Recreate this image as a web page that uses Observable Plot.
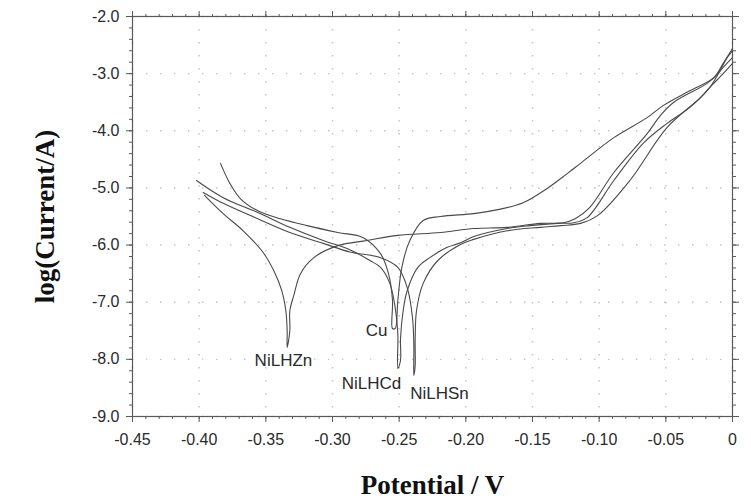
<!DOCTYPE html>
<html>
<head>
<meta charset="utf-8">
<script src="https://cdn.jsdelivr.net/npm/d3@7"></script>
<script src="https://cdn.jsdelivr.net/npm/@observablehq/plot@0.6"></script>
<style>
  html, body { margin: 0; padding: 0; background: #fff; }
</style>
</head>
<body>
<div id="chart"></div>
<script>
// Tafel polarization curves: log(current) against potential for the bare Cu
// electrode and the three NiLH-coated electrodes.

const xTicks = [-0.45, -0.40, -0.35, -0.30, -0.25, -0.20, -0.15, -0.10, -0.05, 0];
const yTicks = [-2, -3, -4, -5, -6, -7, -8, -9];

const seriesNames = ["Cu", "NiLHZn", "NiLHCd", "NiLHSn"];

// Cu
const cuPotential = [-0.384, -0.377, -0.369, -0.356, -0.339, -0.319, -0.296, -0.277, -0.264, -0.258, -0.255, -0.255,
  -0.253, -0.251, -0.248, -0.242, -0.232, -0.219, -0.194, -0.176, -0.157, -0.139, -0.124, -0.114, -0.089, -0.064,
  -0.052, -0.032, -0.014, -0.007, 0.000];
const cuLogCurrent = [-4.57, -4.92, -5.19, -5.40, -5.54, -5.66, -5.78, -5.87, -6.15, -6.50, -6.97, -7.46,
  -7.46, -6.97, -6.39, -5.92, -5.57, -5.50, -5.45, -5.38, -5.26, -5.01, -4.75, -4.57, -4.12, -3.77,
  -3.56, -3.30, -3.07, -2.82, -2.56];

// NiLHZn
const znPotential = [-0.396, -0.382, -0.367, -0.352, -0.344, -0.338, -0.335, -0.334, -0.334, -0.332, -0.332, -0.329,
  -0.324, -0.314, -0.296, -0.274, -0.251, -0.219, -0.194, -0.169, -0.144, -0.127, -0.118, -0.107, -0.089, -0.064,
  -0.054, -0.044, -0.019, -0.011, -0.004, 0.000];
const znLogCurrent = [-5.13, -5.45, -5.75, -6.13, -6.45, -6.80, -7.15, -7.50, -7.79, -7.50, -7.15, -6.88,
  -6.50, -6.22, -6.01, -5.92, -5.83, -5.78, -5.71, -5.69, -5.62, -5.61, -5.54, -5.34, -4.73, -4.05,
  -3.73, -3.50, -3.17, -3.00, -2.72, -2.60];

// NiLHCd
const cdPotential = [-0.402, -0.382, -0.356, -0.332, -0.307, -0.287, -0.272, -0.264, -0.257, -0.253, -0.251, -0.251,
  -0.249, -0.249, -0.247, -0.244, -0.236, -0.227, -0.214, -0.204, -0.194, -0.169, -0.152, -0.131, -0.119, -0.109,
  -0.089, -0.067, -0.049, -0.032, -0.017, -0.009, 0.000];
const cdLogCurrent = [-4.87, -5.17, -5.43, -5.69, -5.92, -6.08, -6.27, -6.39, -6.67, -7.09, -7.55, -8.16,
  -8.02, -7.64, -7.15, -6.80, -6.39, -6.22, -6.04, -5.96, -5.85, -5.71, -5.66, -5.62, -5.61, -5.52,
  -4.87, -4.22, -3.87, -3.59, -3.24, -2.95, -2.72];

// NiLHSn
const snPotential = [-0.397, -0.382, -0.356, -0.332, -0.307, -0.287, -0.264, -0.251, -0.244, -0.240, -0.239, -0.239,
  -0.238, -0.238, -0.237, -0.232, -0.221, -0.204, -0.194, -0.169, -0.144, -0.129, -0.114, -0.101, -0.077, -0.049,
  -0.024, -0.017, -0.007, 0.000];
const snLogCurrent = [-5.08, -5.27, -5.54, -5.78, -5.97, -6.12, -6.22, -6.39, -6.74, -7.27, -7.76, -8.28,
  -8.11, -7.67, -7.15, -6.67, -6.27, -5.99, -5.90, -5.75, -5.69, -5.66, -5.62, -5.48, -4.87, -3.94,
  -3.42, -3.24, -3.00, -2.82];

// Curve annotations (text centre, in data units)
const labelText = ["NiLHZn", "Cu", "NiLHCd", "NiLHSn"];
const labelPotential = [-0.3368, -0.267, -0.2708, -0.2198];
const labelLogCurrent = [-8.02, -7.50, -8.42, -8.60];

const curves = [
  {name: seriesNames[0], v: cuPotential, i: cuLogCurrent},
  {name: seriesNames[1], v: znPotential, i: znLogCurrent},
  {name: seriesNames[2], v: cdPotential, i: cdLogCurrent},
  {name: seriesNames[3], v: snPotential, i: snLogCurrent}
];
const rows = curves.flatMap(c => c.v.map((v, k) => ({series: c.name, V: v, logI: c.i[k]})));
const labels = labelText.map((t, k) => ({text: t, V: labelPotential[k], logI: labelLogCurrent[k]}));

const xMinor = d3.range(-45, 1, 1).map(d => d / 100);
const yMinor = d3.range(-90, -19, 2).map(d => d / 10);

const sans = "'Liberation Sans', Arial, sans-serif";
const serif = "'Liberation Serif', 'Times New Roman', serif";
const axisColor = "#5a5a5a";
const none = () => "";

const chart = Plot.plot({
  width: 751,
  height: 502,
  marginLeft: 132,
  marginRight: 19,
  marginTop: 16,
  marginBottom: 86,
  style: {fontFamily: sans, fontSize: "16px", background: "#fff", color: "#2a2a2a"},
  x: {domain: [-0.45, 0]},
  y: {domain: [-9, -2]},
  marks: [
    // dotted grid
    Plot.gridX({ticks: xTicks, stroke: "#9a9a9a", strokeOpacity: 0.6, strokeWidth: 1.4, strokeDasharray: "1.4 11.6"}),
    Plot.gridY({ticks: yTicks, stroke: "#9a9a9a", strokeOpacity: 0.6, strokeWidth: 1.4, strokeDasharray: "1.4 12.6"}),
    // minor ticks on all four sides
    Plot.axisX({anchor: "bottom", ticks: xMinor, tickSize: 3, tickFormat: none, label: null, stroke: axisColor}),
    Plot.axisX({anchor: "top", ticks: xMinor, tickSize: 3, tickFormat: none, label: null, stroke: axisColor}),
    Plot.axisY({anchor: "left", ticks: yMinor, tickSize: 3, tickFormat: none, label: null, stroke: axisColor}),
    Plot.axisY({anchor: "right", ticks: yMinor, tickSize: 3, tickFormat: none, label: null, stroke: axisColor}),
    // major ticks and labels
    Plot.axisX({anchor: "bottom", ticks: xTicks, tickSize: 6, tickPadding: 11, label: null, stroke: axisColor,
      tickFormat: d => d === 0 ? "0" : d.toFixed(2)}),
    Plot.axisX({anchor: "top", ticks: xTicks, tickSize: 6, tickFormat: none, label: null, stroke: axisColor}),
    Plot.axisY({anchor: "left", ticks: yTicks, tickSize: 6, tickPadding: 7, label: null, stroke: axisColor,
      tickFormat: d => d.toFixed(1)}),
    Plot.axisY({anchor: "right", ticks: yTicks, tickSize: 6, tickFormat: none, label: null, stroke: axisColor}),
    Plot.frame({stroke: axisColor, strokeWidth: 1.2}),
    // polarization curves
    Plot.line(rows, {x: "V", y: "logI", z: "series", stroke: "#4a4a4a", strokeWidth: 1.1, curve: "catmull-rom"}),
    // curve names
    Plot.text(labels, {x: "V", y: "logI", text: "text", fontSize: 17, fill: "#2a2a2a"}),
    // axis titles
    Plot.text(["Potential / V"], {frameAnchor: "bottom", dy: 69, lineAnchor: "middle", textAnchor: "middle",
      text: d => d, fontFamily: serif, fontWeight: "bold", fontSize: 27, fill: "#111"}),
    Plot.text(["log(Current/A)"], {frameAnchor: "left", dx: -87, rotate: -90, lineAnchor: "middle", textAnchor: "middle",
      text: d => d, fontFamily: serif, fontWeight: "bold", fontSize: 27, fill: "#111"})
  ]
});

document.getElementById("chart").append(chart);
</script>
</body>
</html>
